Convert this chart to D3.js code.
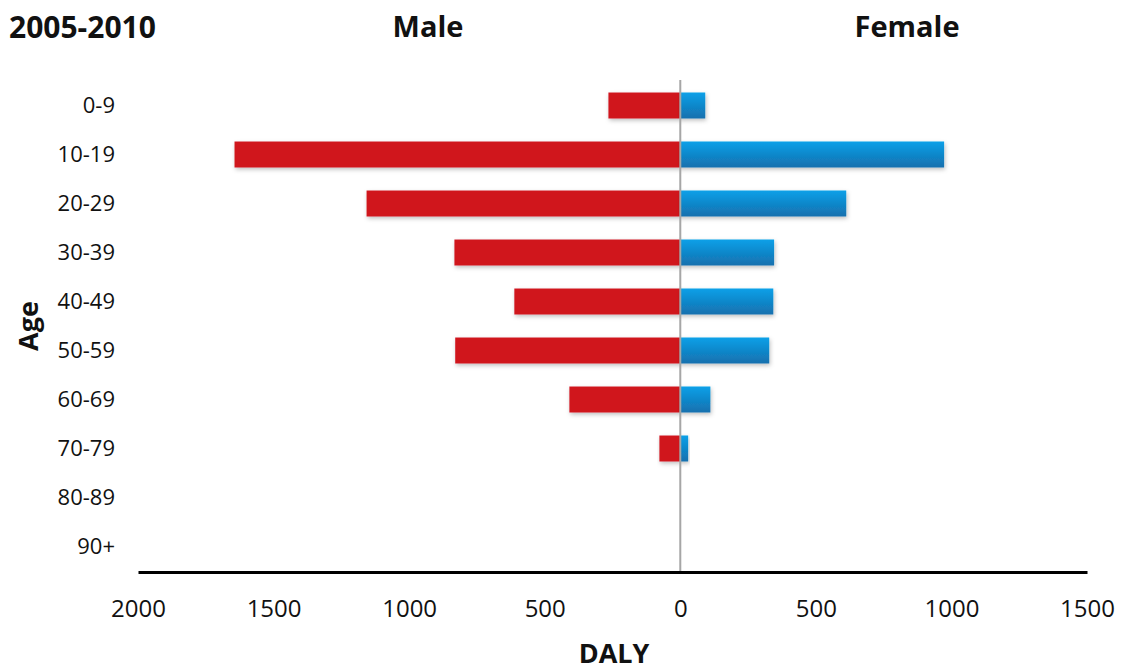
<!DOCTYPE html>
<html><head><meta charset="utf-8">
<script src="https://cdn.jsdelivr.net/npm/d3@7"></script>
<style>body{margin:0;background:#fff}text{font-family:"Open Sans",sans-serif}</style>
</head><body><svg id="c" width="1122" height="670"></svg>
<script>
const ages = ["0-9","10-19","20-29","30-39","40-49","50-59","60-69","70-79","80-89","90+"];
const male = [265,1644,1157,833,612,830,409,77,0,0];
const female = [92,973,612,346,343,328,111,29,2,0];
const tickValues = [-2000,-1500,-1000,-500,0,500,1000,1500];

const svg = d3.select("#c");
const x = d3.scaleLinear().domain([-2000,1500]).range([138,1087]);
const y = d3.scaleBand().domain(ages).range([81,571]).paddingInner(0.47).paddingOuter(0.235);

const defs = svg.append("defs");
const g1 = defs.append("linearGradient").attr("id","fg").attr("x1",0).attr("y1",0).attr("x2",0).attr("y2",1);
g1.append("stop").attr("offset","0%").attr("stop-color","#0aa0e8");
g1.append("stop").attr("offset","100%").attr("stop-color","#1570ae");
const f = defs.append("filter").attr("id","sh").attr("x","-10%").attr("y","-30%").attr("width","130%").attr("height","180%");
f.append("feDropShadow").attr("dx",1).attr("dy",2).attr("stdDeviation",2).attr("flood-color","#000").attr("flood-opacity",0.25);

// male bars
svg.append("g").selectAll("rect").data(ages).join("rect")
  .attr("x",(d,i)=>x(-male[i])).attr("y",d=>y(d))
  .attr("width",(d,i)=>x(0)-x(-male[i])).attr("height",y.bandwidth())
  .attr("fill","#d0121d").attr("filter","url(#sh)");
// female bars
svg.append("g").selectAll("rect").data(ages).join("rect")
  .attr("x",x(0)).attr("y",d=>y(d))
  .attr("width",(d,i)=>x(female[i])-x(0)).attr("height",y.bandwidth())
  .attr("fill","url(#fg)").attr("filter","url(#sh)");

// zero line
svg.append("line").attr("x1",x(0)).attr("x2",x(0)).attr("y1",80).attr("y2",572)
  .attr("stroke","#a6a6a6").attr("stroke-width",2);

// x axis
const xa = svg.append("g").attr("transform","translate(0,572)")
  .call(d3.axisBottom(x).tickValues(tickValues).tickFormat(d=>Math.abs(d)).tickSize(0).tickPadding(28));
xa.select(".domain").attr("stroke","#000").attr("stroke-width",3);
xa.selectAll("text").attr("font-size",24).attr("fill","#111").style("font-family","'Open Sans',sans-serif");

// y labels
const ya = svg.append("g").attr("transform","translate(115,0)")
  .call(d3.axisLeft(y).tickSize(0).tickPadding(0));
ya.select(".domain").remove();
ya.selectAll("text").attr("font-size",22).attr("fill","#111").style("font-family","'Open Sans',sans-serif");

// titles
svg.append("text").attr("x",9).attr("y",38).attr("font-size",30).attr("font-weight","bold").attr("fill","#111").text("2005-2010");
svg.append("text").attr("x",428).attr("y",37).attr("text-anchor","middle").attr("font-size",29).attr("font-weight","bold").attr("fill","#111").text("Male");
svg.append("text").attr("x",907).attr("y",37).attr("text-anchor","middle").attr("font-size",29).attr("font-weight","bold").attr("fill","#111").text("Female");
svg.append("text").attr("x",614).attr("y",663).attr("text-anchor","middle").attr("font-size",27).attr("font-weight","bold").attr("fill","#111").text("DALY");
svg.append("text").attr("transform","translate(38,326) rotate(-90)").attr("text-anchor","middle").attr("font-size",27).attr("font-weight","bold").attr("fill","#111").text("Age");
</script></body></html>
